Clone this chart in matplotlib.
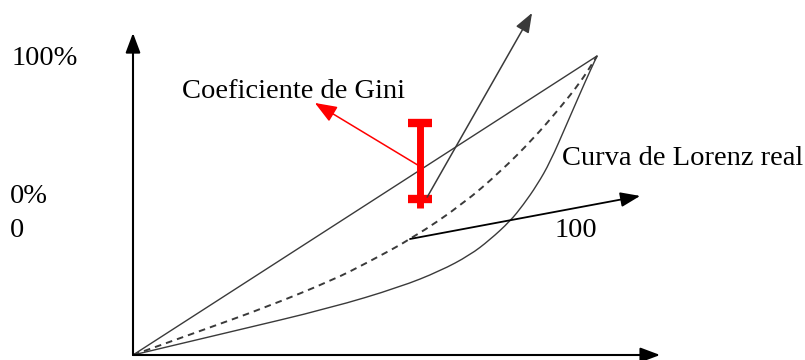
import numpy as np
from matplotlib import pyplot as plt
from matplotlib.path import Path
from matplotlib.patches import PathPatch

plt.rcParams['font.family'] = ['Liberation Serif', 'DejaVu Serif']

# Curves (x = % population, y = % income)
equal_x = [0, 100]
equal_y = [0, 100]

dashed_x = [0, 14.4, 28.9, 43.1, 50.4, 60.3, 71.1, 79.1, 86.2, 92.0, 96.3, 99.1, 100]
dashed_y = [0, 8.0, 16.1, 25.1, 30.8, 39.1, 50.5, 61.2, 72.2, 82.6, 91.0, 97.7, 100]

real_x = [0, 20.9, 42.5, 57.5, 66.2, 72.6, 76.9, 81.3, 84.1, 87.1, 89.9, 93.5, 96.3, 98.5, 100]
real_y = [0, 7.7, 15.7, 22.7, 28.1, 33.4, 38.5, 44.8, 50.2, 56.9, 64.5, 77.3, 87.3, 95.0, 100]

# Gini marker
gini_x = 61.9
gini_top = 77.6
gini_bottom = 52.2

labels = ['100%', 'Coeficiente de Gini', 'Curva de Lorenz real', '0%', '0', '100']
label_x = [-26.1, 10.6, 92.5, -26.5, -26.5, 90.9]
label_y = [97.0, 86.0, 63.5, 50.8, 39.5, 39.5]


def smooth_path(xs, ys):
    # quadratic segments through midpoints, read points act as control points
    pts = np.column_stack([xs, ys])
    verts = [pts[0]]
    codes = [Path.MOVETO]
    for i in range(1, len(pts) - 1):
        end = pts[i + 1] if i == len(pts) - 2 else (pts[i] + pts[i + 1]) / 2
        verts += [pts[i], end]
        codes += [Path.CURVE3, Path.CURVE3]
    return Path(verts, codes)


fig = plt.figure(figsize=(8.05, 3.6), dpi=100)
ax = fig.add_axes([133 / 805, 5 / 360, 464 / 805, 299 / 360])
ax.set_xlim(0, 100)
ax.set_ylim(0, 100)
ax.axis('off')

grey = '#3a3a3a'
head = '-|>,head_length=0.8,head_width=0.3'

# axes with arrows
for tip in [(0, 107.7), (113.6, 0)]:
    ax.annotate('', xy=tip, xytext=(0, 0), annotation_clip=False,
                arrowprops=dict(arrowstyle=head, mutation_scale=15, lw=1.5,
                                color='black', shrinkA=0, shrinkB=0))

ax.plot(equal_x, equal_y, color=grey, lw=1.0, clip_on=False)
ax.add_patch(PathPatch(smooth_path(dashed_x, dashed_y), fill=False, edgecolor=grey,
                       lw=1.4, ls=(0, (3.4, 2.6)), clip_on=False))
ax.add_patch(PathPatch(smooth_path(real_x, real_y), fill=False, edgecolor=grey,
                       lw=1.0, clip_on=False))

# pointer arrows
ax.annotate('', xy=(86.0, 114.4), xytext=(63.4, 52.8), annotation_clip=False,
            arrowprops=dict(arrowstyle=head, mutation_scale=15, lw=1.1,
                            color=grey, shrinkA=0, shrinkB=0))
ax.annotate('', xy=(109.3, 53.2), xytext=(59.7, 38.8), annotation_clip=False,
            arrowprops=dict(arrowstyle=head, mutation_scale=15, lw=1.3,
                            color='black', shrinkA=0, shrinkB=0))

# Gini I-beam
ax.plot([gini_x, gini_x], [gini_bottom - 3.0, gini_top], color='red', lw=5,
        solid_capstyle='butt', clip_on=False)
for yy in [gini_top, gini_bottom]:
    ax.plot([gini_x - 2.6, gini_x + 2.6], [yy, yy], color='red', lw=6,
            solid_capstyle='butt', clip_on=False)
ax.annotate('', xy=(39.2, 84.3), xytext=(61.4, 63.5), annotation_clip=False,
            arrowprops=dict(arrowstyle='-|>,head_length=0.9,head_width=0.35',
                            mutation_scale=15, lw=1.1, color='red',
                            shrinkA=0, shrinkB=0))

for txt, x, y in zip(labels, label_x, label_y):
    ax.text(x, y, txt, fontsize=20.5, ha='left', va='baseline', color='black')

fig.savefig('out.png', dpi=100)
